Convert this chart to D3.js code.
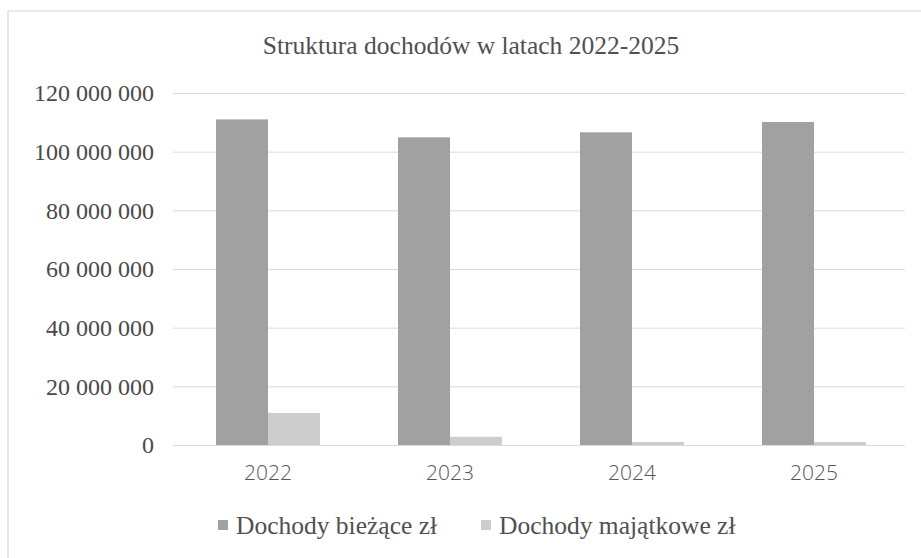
<!DOCTYPE html>
<html>
<head>
<meta charset="utf-8">
<script src="https://cdn.jsdelivr.net/npm/d3@7"></script>
<style>
  body { margin: 0; background: #fff; }
  svg { display: block; }
</style>
</head>
<body>
<div id="chart"></div>
<script>
// data
var years = ["2022", "2023", "2024", "2025"];
var seriesNames = ["Dochody bieżące zł", "Dochody majątkowe zł"];
var biezace = [111000000, 104900000, 106600000, 110100000];
var majatkowe = [10900000, 2800000, 1000000, 1000000];
var yTicks = [0, 20000000, 40000000, 60000000, 80000000, 100000000, 120000000];
var colors = ["#a1a1a1", "#cdcdcd"];

var W = 921, H = 558;
var svg = d3.select("#chart").append("svg")
    .attr("width", W)
    .attr("height", H);

// chart frame (only top and left edges are inside the picture)
svg.append("line").attr("x1", 8).attr("x2", W).attr("y1", 11).attr("y2", 11)
    .attr("stroke", "#d4d4d4").attr("stroke-width", 1.2);
svg.append("line").attr("x1", 8).attr("x2", 8).attr("y1", 11).attr("y2", H)
    .attr("stroke", "#d4d4d4").attr("stroke-width", 1.2);

var x0 = d3.scaleBand()
    .domain(years)
    .range([177, 905])
    .padding(0);
var x1 = d3.scaleBand()
    .domain(seriesNames)
    .range([0, x0.bandwidth()])
    .paddingInner(0)
    .paddingOuter(0.75);
var y = d3.scaleLinear()
    .domain([0, 120000000])
    .range([445, 93]);

var fmt = function(v) { return d3.format(",")(v).replace(/,/g, " "); };

// title
svg.append("text")
    .attr("x", 471)
    .attr("y", 54)
    .attr("text-anchor", "middle")
    .style("font-family", "'Liberation Serif', 'Times New Roman', serif")
    .style("font-size", "25.5px")
    .style("fill", "#505050")
    .text("Struktura dochodów w latach 2022-2025");

// gridlines + y labels
var yAxis = svg.append("g")
    .attr("transform", "translate(173,0)")
    .call(d3.axisLeft(y).tickValues(yTicks).tickSize(-(905 - 173)).tickPadding(19).tickFormat(fmt));
yAxis.select(".domain").remove();
yAxis.selectAll(".tick line").attr("stroke", "#dadada").attr("stroke-width", 1);
yAxis.selectAll(".tick text")
    .style("font-family", "'Liberation Serif', 'Times New Roman', serif")
    .style("font-size", "24px")
    .style("fill", "#4a4a4a");

// bars
var rows = years.map(function(yr, i) {
    return { year: yr, values: [biezace[i], majatkowe[i]] };
});
var groups = svg.selectAll("g.grp")
    .data(rows)
    .enter().append("g")
    .attr("class", "grp")
    .attr("transform", function(d) { return "translate(" + x0(d.year) + ",0)"; });
groups.selectAll("rect")
    .data(function(d) { return d.values.map(function(v, k) { return { k: k, v: v }; }); })
    .enter().append("rect")
    .attr("x", function(d) { return x1(seriesNames[d.k]); })
    .attr("width", x1.bandwidth())
    .attr("y", function(d) { return y(d.v); })
    .attr("height", function(d) { return y(0) - y(d.v); })
    .attr("fill", function(d) { return colors[d.k]; });

// x labels
var xAxis = svg.append("g")
    .attr("transform", "translate(0,445)")
    .call(d3.axisBottom(x0).tickSize(0).tickPadding(20));
xAxis.select(".domain").remove();
xAxis.selectAll(".tick text")
    .style("font-family", "'Open Sans', sans-serif")
    .style("font-weight", "300")
    .style("font-size", "21px")
    .style("fill", "#555");

// legend
var legendX = [218, 481];
var legend = svg.selectAll("g.leg")
    .data(seriesNames)
    .enter().append("g")
    .attr("class", "leg")
    .attr("transform", function(d, i) { return "translate(" + legendX[i] + ",525)"; });
legend.append("rect")
    .attr("x", 0).attr("y", -5)
    .attr("width", 10).attr("height", 10)
    .attr("fill", function(d, i) { return colors[i]; });
legend.append("text")
    .attr("x", 18)
    .attr("y", 0)
    .attr("dy", "0.35em")
    .style("font-family", "'Liberation Serif', 'Times New Roman', serif")
    .style("font-size", "25.5px")
    .style("fill", "#505050")
    .text(function(d) { return d; });
</script>
</body>
</html>
